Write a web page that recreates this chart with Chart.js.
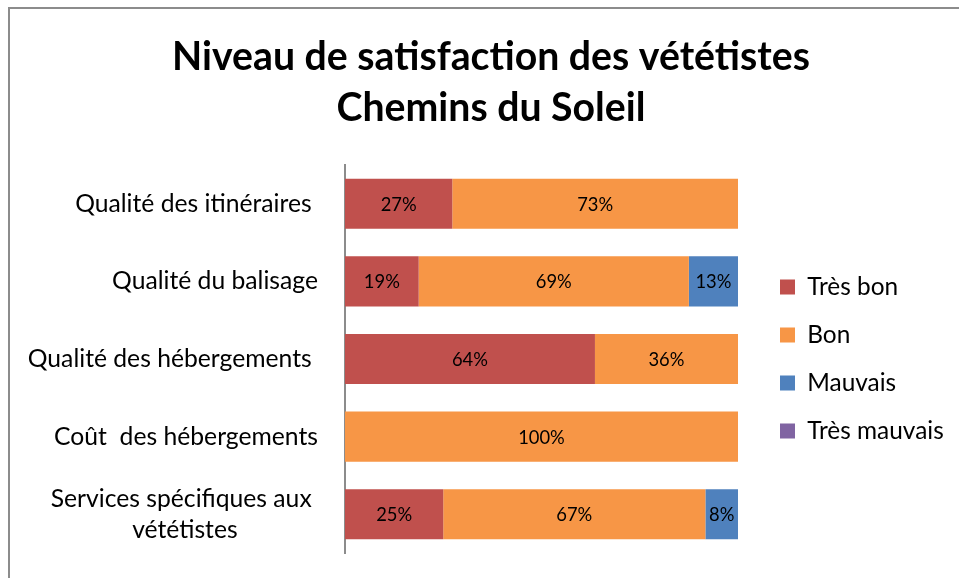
<!DOCTYPE html>
<html>
<head>
<meta charset="utf-8">
<script src="https://cdn.jsdelivr.net/npm/chart.js@4/dist/chart.umd.min.js"></script>
<style>
  html, body { margin: 0; padding: 0; background: #fff; overflow: hidden; width: 959px; height: 578px; }
  #frame { position: absolute; left: 8px; top: 7px; width: 2000px; height: 2000px;
           border-top: 2px solid #8c8c8c; border-left: 2px solid #8c8c8c; }
  #wrap { position: absolute; left: 0; top: 0; width: 1000px; height: 578px; }
</style>
</head>
<body>
<div id="frame"></div>
<div id="wrap"><canvas id="c" width="1000" height="578"></canvas></div>
<script>
// ---- data ----
const titleLines = ['Niveau de satisfaction des vététistes', 'Chemins du Soleil'];
const categories = [
  'Qualité des itinéraires ',
  'Qualité du balisage',
  'Qualité des hébergements ',
  'Coût  des hébergements',
  ['Services spécifiques aux ', 'vététistes\u2003\u2003\u2003\u2003 ']
];
const seriesNames = ['Très bon', 'Bon', 'Mauvais', 'Très mauvais'];
const tresBon     = [27.3, 18.75, 63.6, 0, 25];
const bon         = [72.7, 68.75, 36.4, 100, 66.7];
const mauvais     = [0, 12.5, 0, 0, 8.3];
const tresMauvais = [0, 0, 0, 0, 0];
const colors = ['#C0504D', '#F79646', '#4F81BD', '#8064A2'];

// ---- font sizing (match text widths) ----
const FONT = 'Lato';
const mctx = document.createElement('canvas').getContext('2d');
function mw(txt, weight, size) { mctx.font = weight + ' ' + size + 'px ' + FONT; return mctx.measureText(txt).width; }
const fsTitle  = 100 * 638 / mw(titleLines[0], 'bold', 100);
const fsTick   = 100 * 206 / mw('Qualité du balisage', 'normal', 100);
const fsLegend = 100 * 91 / mw('Très bon', 'normal', 100);
const fsData   = 100 * 36 / mw('73%', 'normal', 100);

const W = 1000;
const areaLeft = 345, barsRight = 738;
const legPad = 48 - fsLegend;
const areaRight = 780 - legPad;
const legWidth = legPad + 15 + fsLegend / 2 + mw('Très mauvais', 'normal', fsLegend) + 10;
const padR = W - areaRight - legWidth;
const padL = padR + 2 * 491 - W;
const xMax = 100 * (areaRight - areaLeft) / (barsRight - areaLeft);

const valueLabels = {
  id: 'valueLabels',
  afterDatasetsDraw(chart) {
    const ctx = chart.ctx;
    ctx.save();
    ctx.font = fsData + 'px ' + FONT;
    ctx.fillStyle = '#000';
    ctx.textAlign = 'center';
    ctx.textBaseline = 'middle';
    chart.data.datasets.forEach((ds, i) => {
      const meta = chart.getDatasetMeta(i);
      if (meta.hidden) return;
      meta.data.forEach((el, j) => {
        const v = ds.data[j];
        if (!v) return;
        const p = el.getCenterPoint();
        ctx.fillText(Math.round(v) + '%', p.x, p.y + 1);
      });
    });
    ctx.restore();
  }
};

const seriesData = [tresBon, bon, mauvais, tresMauvais];
new Chart(document.getElementById('c'), {
  type: 'bar',
  data: {
    labels: categories,
    datasets: seriesNames.map((n, i) => ({
      label: n,
      data: seriesData[i],
      backgroundColor: colors[i],
      borderWidth: 0,
      categoryPercentage: 1,
      barPercentage: 0.645
    }))
  },
  options: {
    indexAxis: 'y',
    responsive: false,
    animation: false,
    layout: { padding: { left: padL, right: padR, top: 0, bottom: 25 } },
    scales: {
      x: { stacked: true, display: false, min: 0, max: xMax },
      y: {
        stacked: true,
        grid: { display: false, drawTicks: false },
        border: { display: true, color: '#8c8c8c', width: 2 },
        ticks: { color: '#000', padding: 27, font: { family: FONT, size: fsTick, lineHeight: 31 / fsTick } },
        afterFit(scale) {
          scale.width = areaLeft - padL;
          scale.paddingTop = 0; scale.paddingBottom = 0;
        }
      }
    },
    plugins: {
      title: {
        display: true,
        text: titleLines,
        color: '#000',
        font: { family: FONT, size: fsTitle, weight: 'bold', lineHeight: 51 / fsTitle },
        padding: { top: 31.5, bottom: 31.5 }
      },
      legend: {
        position: 'right',
        fullSize: false,
        labels: {
          color: '#000',
          boxWidth: 15,
          boxHeight: 15,
          padding: legPad,
          font: { family: FONT, size: fsLegend }
        }
      },
      tooltip: { enabled: false }
    }
  },
  plugins: [valueLabels]
});
</script>
</body>
</html>
